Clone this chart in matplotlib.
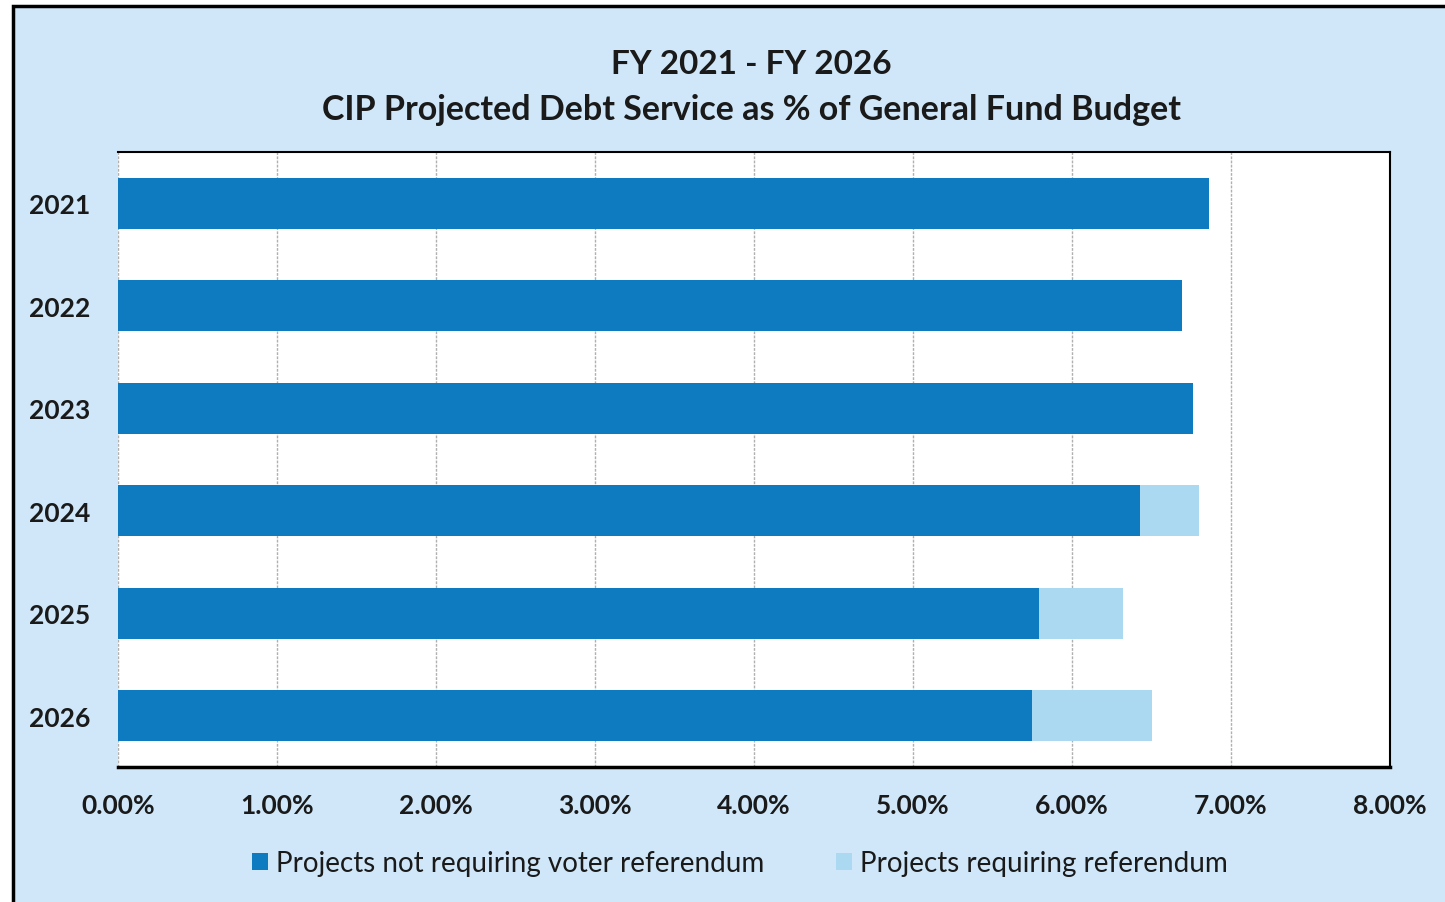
import numpy as np
import matplotlib.pyplot as plt
from matplotlib.patches import Rectangle
from matplotlib.ticker import FuncFormatter

plt.rcParams['font.family'] = ['Lato', 'DejaVu Sans']

years = ['2021', '2022', '2023', '2024', '2025', '2026']
no_referendum = [6.86, 6.69, 6.76, 6.43, 5.79, 5.75]   # % of general fund budget
with_referendum = [0.0, 0.0, 0.0, 0.37, 0.53, 0.75]

bg = '#cfe7f8'
dark = '#0e7bc1'
light = '#acd9f2'

fig = plt.figure(figsize=(14.45, 9.03), dpi=100)
fig.patch.set_facecolor('white')
# light blue panel with a black frame (runs off the right and bottom edges)
fig.patches.append(Rectangle((13 / 1445, -0.05), 1.1, (903 - 7) / 903 + 0.05,
                             transform=fig.transFigure, facecolor=bg,
                             edgecolor='black', linewidth=2.5, zorder=-5))

ax = fig.add_axes([118 / 1445, 1 - 768 / 903, (1390 - 118) / 1445, (768 - 153) / 903])
ax.set_facecolor('white')

y = np.arange(len(years))
ax.barh(y, no_referendum, height=0.5, color=dark, zorder=3,
        label='Projects not requiring voter referendum')
ax.barh(y, with_referendum, left=no_referendum, height=0.5, color=light, zorder=3,
        label='Projects requiring referendum')

ax.set_xlim(0, 8)
ax.set_ylim(len(years) - 0.5, -0.5)
ax.set_xticks(np.arange(0, 9, 1))
ax.xaxis.set_major_formatter(FuncFormatter(lambda v, p: f'{v:.2f}%'))
ax.set_yticks(y)
ax.set_yticklabels(years)
ax.tick_params(axis='both', length=0, labelsize=19, colors='#1a1a1a')
ax.tick_params(axis='x', pad=19)
ax.tick_params(axis='y', pad=20)
for lab in ax.get_xticklabels() + ax.get_yticklabels():
    lab.set_fontweight('bold')

ax.grid(axis='x', color='#b0b0b0', linewidth=1, linestyle=(0, (2, 1)), zorder=1)
for side in ['top', 'right', 'bottom']:
    ax.spines[side].set_color('black')
    ax.spines[side].set_linewidth(1.5)
ax.spines['bottom'].set_linewidth(2.5)
ax.spines['left'].set_visible(False)

fig.text(751 / 1445, 1 - 65 / 903, 'FY 2021 - FY 2026', ha='center', va='center',
         fontsize=24, fontweight='bold', color='#1a1a1a')
fig.text(751 / 1445, 1 - 110 / 903, 'CIP Projected Debt Service as % of General Fund Budget',
         ha='center', va='center', fontsize=24.5, fontweight='bold', color='#1a1a1a')

fig.legend(loc='center', bbox_to_anchor=(740 / 1445, 1 - 864 / 903), ncol=2,
           frameon=False, fontsize=20, handlelength=0.55, handleheight=0.55,
           handletextpad=0.3, columnspacing=2.6, labelcolor='#1a1a1a')

fig.savefig('out.png', dpi=100, facecolor=fig.get_facecolor())
